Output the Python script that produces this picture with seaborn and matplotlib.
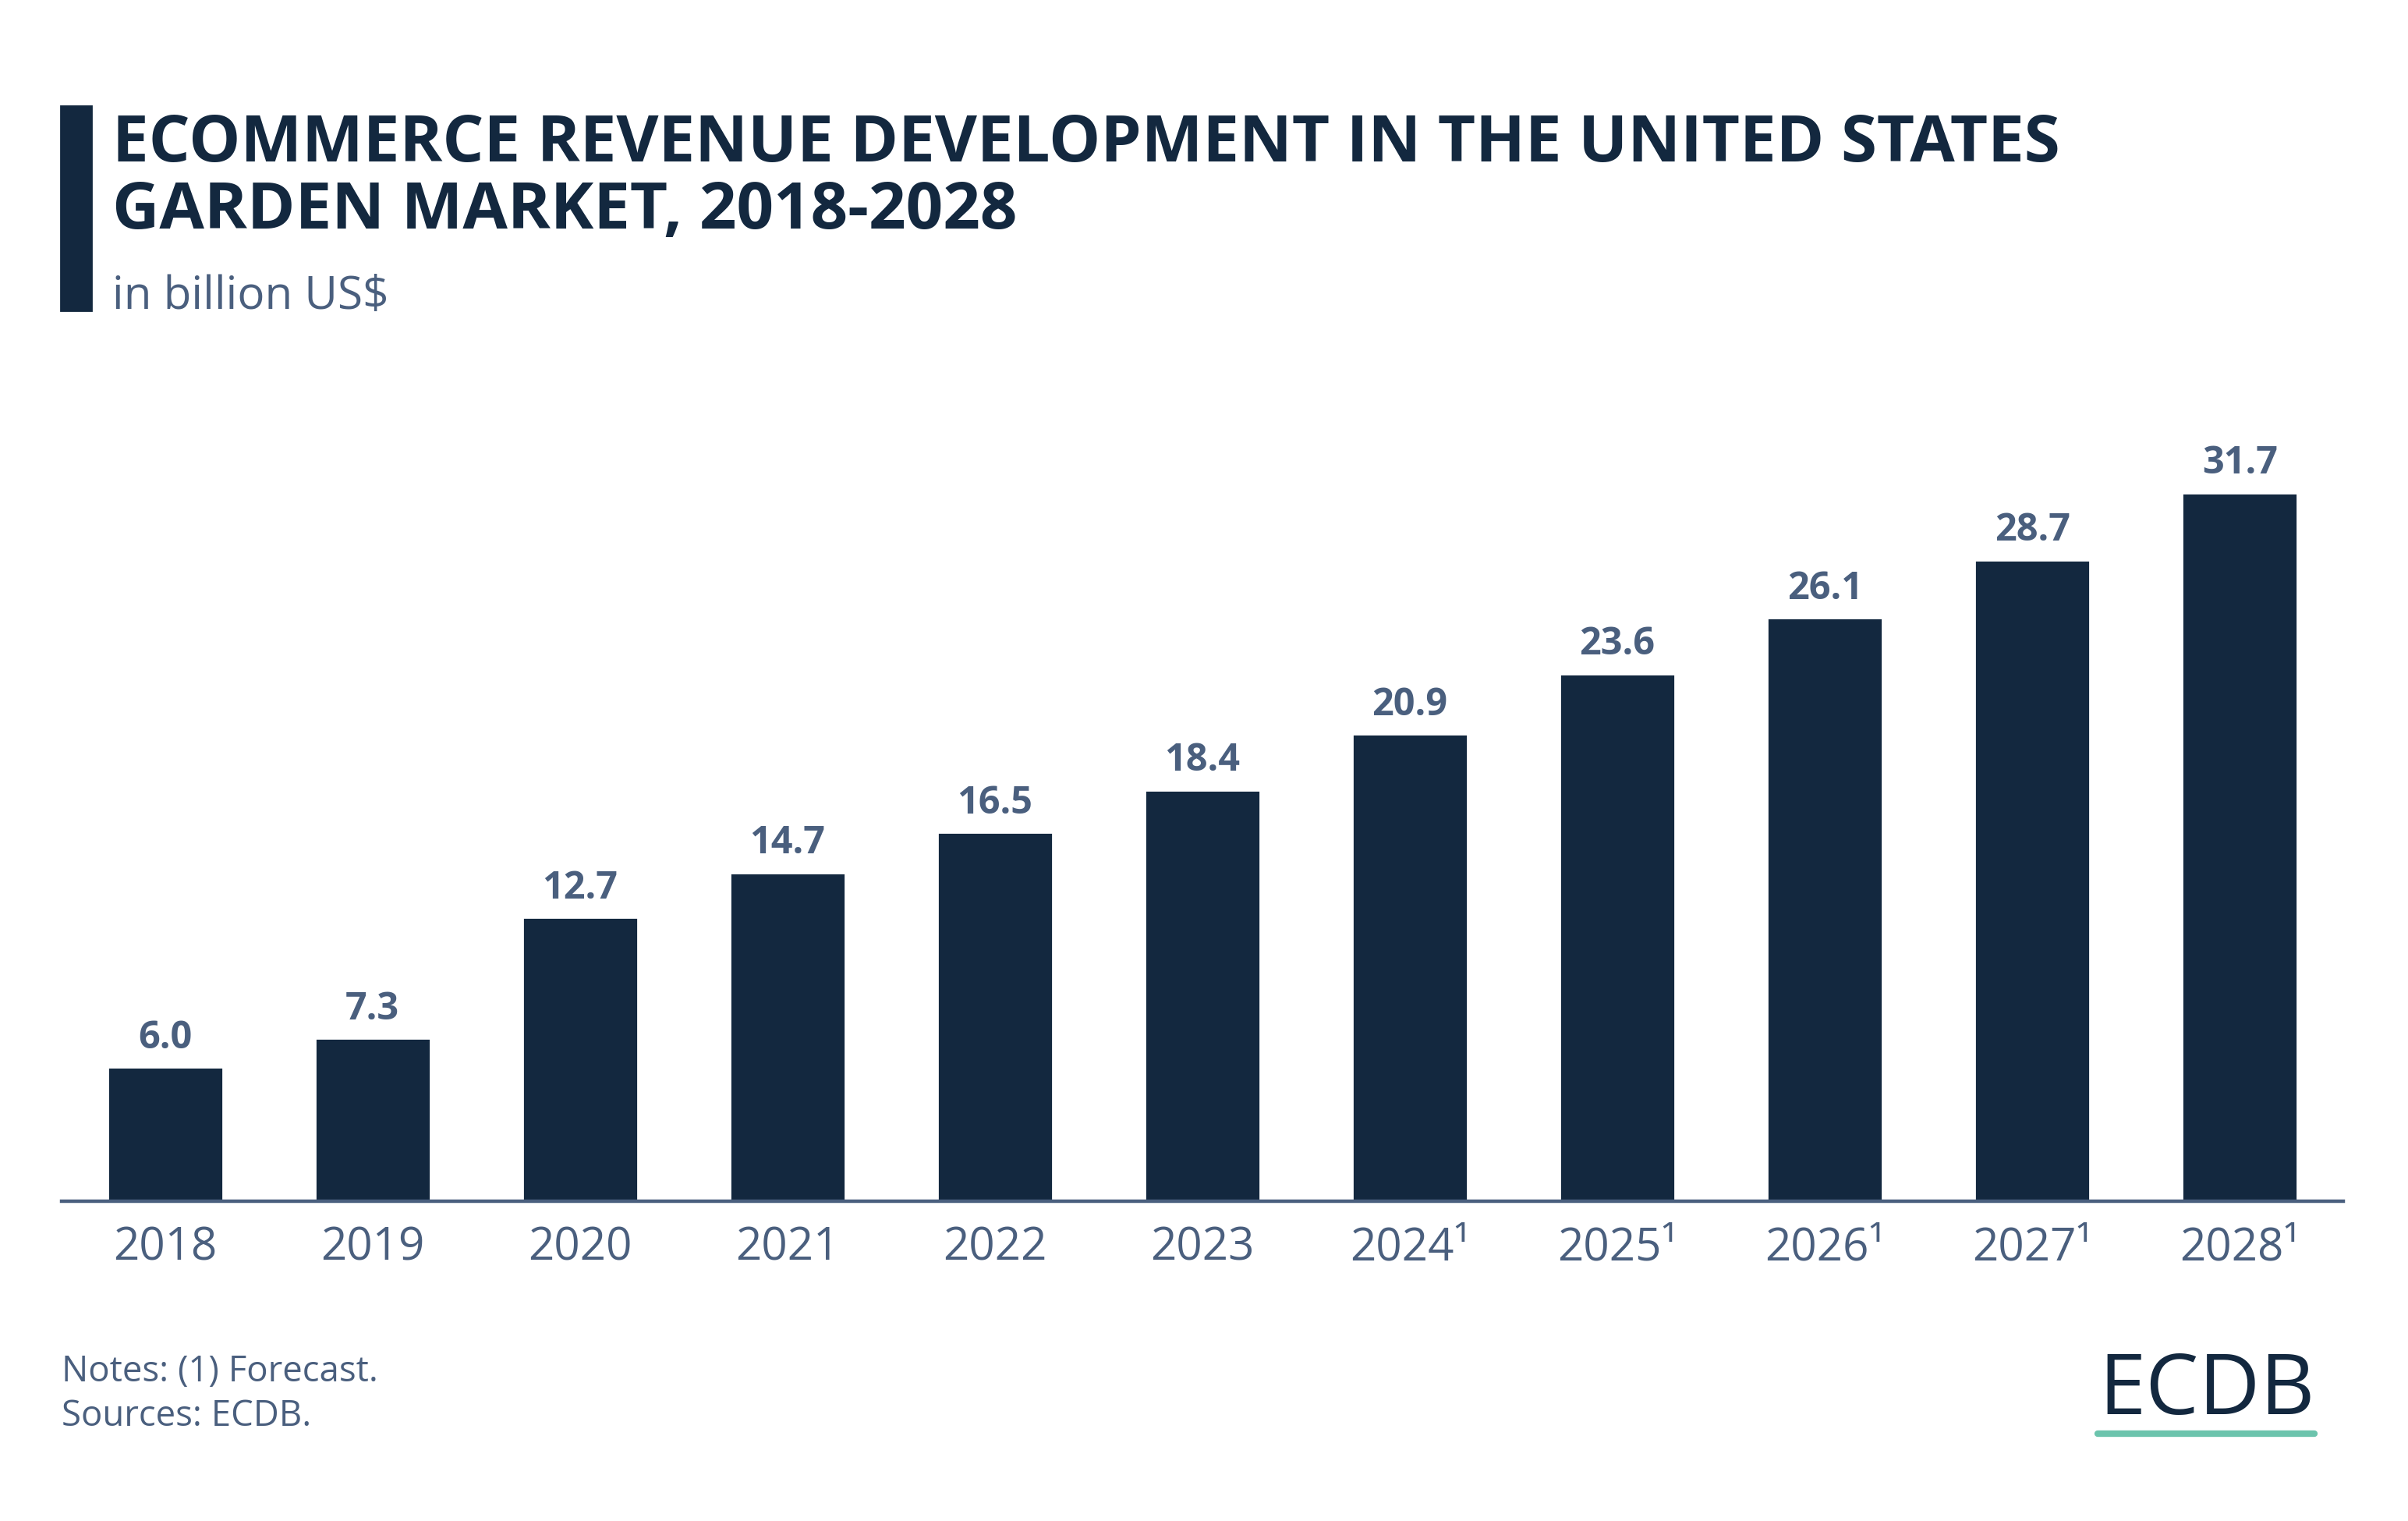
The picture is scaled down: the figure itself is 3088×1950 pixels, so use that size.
import matplotlib
matplotlib.use("Agg")
import matplotlib.pyplot as plt
import seaborn as sns
import pandas as pd

# Data
years = ["2018", "2019", "2020", "2021", "2022", "2023",
         "2024¹", "2025¹", "2026¹", "2027¹", "2028¹"]
revenue = [6.0, 7.3, 12.7, 14.7, 16.5, 18.4, 20.9, 23.6, 26.1, 28.7, 31.7]

title = "ECOMMERCE REVENUE DEVELOPMENT IN THE UNITED STATES\nGARDEN MARKET, 2018-2028"
subtitle = "in billion US$"
notes = "Notes: (1) Forecast.\nSources: ECDB."

NAVY = "#13283f"
SLATE = "#4a5f7e"
GREEN = "#6cc4ad"

sns.set_theme(style="white")
plt.rcParams['font.family'] = ['Open Sans', 'DejaVu Sans']

df = pd.DataFrame({"year": years, "revenue": revenue})

fig = plt.figure(figsize=(15.44, 9.75), dpi=200)
ax = fig.add_axes([0.0255, 0.2101, 0.9477, 0.5071])

sns.barplot(data=df, x="year", y="revenue", color=NAVY, saturation=1,
            width=0.555, ax=ax)

ax.set_xlim(-0.5, len(years) - 0.5)
ax.set_ylim(0, 34.5)
ax.set_xlabel("")
ax.set_ylabel("")
ax.set_yticks([])
for side in ["top", "right", "left"]:
    ax.spines[side].set_visible(False)
ax.spines["bottom"].set_color(SLATE)
ax.spines["bottom"].set_linewidth(1.6)
ax.tick_params(axis="x", length=0, pad=11, labelsize=21, labelcolor=SLATE)

# value labels
for cont in ax.containers:
    ax.bar_label(cont, fmt="%.1f", padding=4.5, fontsize=17.5,
                 fontweight="bold", color=SLATE)

# title block
fig.patches.append(plt.Rectangle((0.0253, 0.796), 0.0125, 0.134,
                                 transform=fig.transFigure, color=NAVY))
fig.text(0.0466, 0.926, title, fontsize=30, fontweight="bold", color=NAVY,
         va="top", ha="left", linespacing=1.05)
fig.text(0.0466, 0.797, subtitle, fontsize=21, color=SLATE,
         va="baseline", ha="left")

# footer
fig.text(0.0255, 0.057, notes, fontsize=16.4, color=SLATE, va="bottom",
         ha="left", linespacing=1.3)

# logo
fig.text(0.9615, 0.070, "ECDB", fontsize=39, color=NAVY, ha="right",
         va="baseline")
fig.add_artist(plt.Line2D([0.8712, 0.9611], [0.0575, 0.0575],
                          transform=fig.transFigure, color=GREEN, lw=3))

fig.savefig("out.png", dpi=200, facecolor="white")
